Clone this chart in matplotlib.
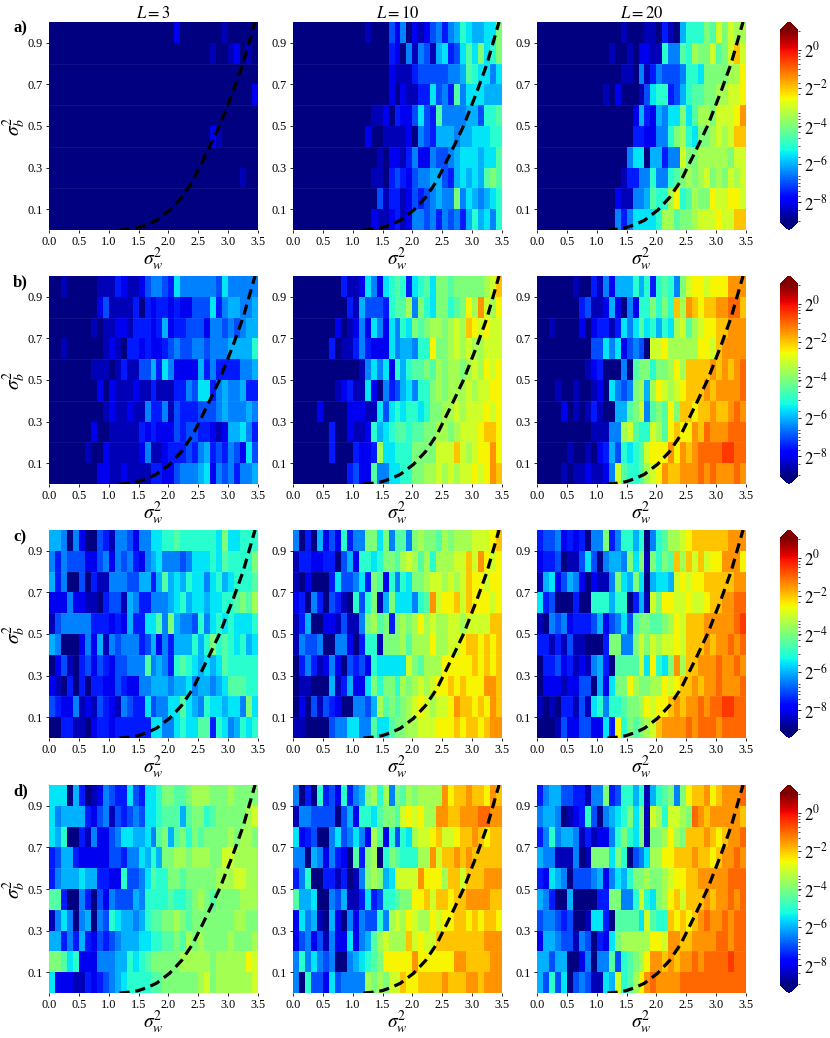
import matplotlib
matplotlib.use('Agg')
import matplotlib.pyplot as plt
import matplotlib.ticker as ticker
from matplotlib.colors import LogNorm
import numpy as np

plt.rcParams['font.family'] = ['Liberation Serif', 'DejaVu Serif']
plt.rcParams['mathtext.fontset'] = 'stix'

# each character is one cell: value = 2 ** (-9 + level / 2)
LEVELS = '0123456789abcdefghi'

a_L3 = ['00000 00000 00000 00000 02000 00001 00000',
        '00000 00000 00000 00000 00000 00100 12010',
        '00000 00000 00000 00000 00000 00000 00000',
        '00000 00000 00000 00000 00000 00000 00002',
        '00000 00000 00000 00000 00000 00000 00000',
        '00000 00000 00000 00000 00000 00210 00000',
        '00000 00000 00000 00000 00000 00000 00000',
        '00000 00000 00000 00000 00000 00000 00100',
        '00000 00000 00000 00000 00000 00000 00000',
        '00000 00000 00000 00000 00000 00000 00000']
a_L10 = ['00000 00000 00100 04250 21245 35687 6677a',
         '00000 00000 00000 03205 15416 73479 7a78a',
         '00000 00000 00000 02111 34444 45569 87757',
         '00000 00000 00000 02021 13374 53957 77666',
         '00000 00000 00011 20322 47439 55556 64889',
         '00000 00000 00200 11112 05436 66566 77788',
         '00000 00000 00001 02213 52254 45677 76779',
         '00000 00000 00011 03432 45566 43676 769a9',
         '00000 00000 00004 13312 43456 55a57 65678',
         '00000 00000 00021 12312 55453 54536 86758']
a_L20 = ['00000 00000 00001 00011 03106 888a9 cacbb',
         '00000 00000 00100 10221 18559 8baac 9acec',
         '00000 00000 00001 10513 54445 887aa aabbd',
         '00000 00000 01020 00147 88346 899aa bbccd',
         '00000 00000 00000 02632 6577a 79bba cccdf',
         '00000 00000 00000 03322 558ab 87aab cbcee',
         '00000 00000 00000 57706 6355c aabbb bbacc',
         '00000 00000 00001 33558 5589a babca bacbc',
         '00000 00000 00021 15569 88bd8 9baad ccddc',
         '00000 00000 00053 57777 8bb9a abccc dccee']
b_L3 = ['00100 00011 13211 24554 37555 55547 55555',
        '00000 00024 11113 03233 23224 44735 66556',
        '00000 00101 12213 33236 23344 42554 54566',
        '00100 00001 21033 23223 45445 54555 66668',
        '00000 00111 01311 44637 52222 63533 33556',
        '00000 00020 21112 11311 13354 77356 55633',
        '00000 00001 21121 15335 14333 44456 55565',
        '00000 00200 11111 32322 24344 33212 66753',
        '00000 01002 11111 25112 33343 56343 54274',
        '00000 00022 11211 11332 24555 67254 53556']
b_L10 = ['00000 00031 12752 78983 7897a a9aaa aabce',
         '00000 00003 16444 3899b 5a87a a89ad bfcbd',
         '00000 00201 25275 27587 a9abb abcbe dcdcc',
         '00000 03011 35322 27566 588da abcbc bbccc',
         '00000 00000 01575 72868 99a9b abbab cbdcd',
         '00000 00123 11720 53467 588ab abbbc bccdd',
         '00002 00002 22117 47878 878aa bbcbc ccdcd',
         '00000 03002 11286 78998 99aab babcc cdeed',
         '00000 03000 3223b 77888 aaaac ccecb cddfd',
         '00000 00003 42295 57788 aabbc bcbcc dcdfe']
b_L20 = ['00000 01003 15266 68683 8985a cddcd ddfff',
         '00000 00341 12620 5288a 8a8eb fedee ffgge',
         '00100 00202 33137 57978 687bc 9bcdd eefff',
         '00000 00004 47572 4540c cdbbb bbddc effff',
         '00000 00012 30005 09aa8 aabdb eeeef efefg',
         '00010 01001 20754 5ab6b dcbcd eeefe ffffg',
         '00002 01013 10066 9ac59 a9dae edeef eefgf',
         '00000 00001 1155b c988c b9ded dfegf ffggg',
         '00000 10010 23648 789cd ddfdf efggg ghhgg',
         '00001 01121 125c9 889bc dfeef ffgfg fffgf']
c_L3 = ['66505 20043 15542 55778 89888 8887a 77888',
        '53544 42245 25453 25675 55457 77879 8888a',
        '63500 40311 55544 66369 67687 75786 78889',
        '22252 21103 44165 33555 67867 76778 89a9b',
        '14555 55333 23263 37795 a6554 85787 87778',
        '65000 25261 54555 34625 36668 68a89 87867',
        '02410 34243 24455 59565 38987 67679 88888',
        '21030 30332 24322 55666 56675 66567 99988',
        '43225 12143 21543 37455 77976 58776 775a7',
        '00331 10233 23333 33775 57877 99387 56878']
c_L10 = ['50306 24283 55aa7 a5995 abaa9 babbb cccde',
         '13322 33046 28878 aa9bc b9b8b bbcce cfdcd',
         '10200 03744 573a9 28587 aabcc bcbce ddcdd',
         '23053 04310 848a1 6a777 589fc ddece dddcd',
         '13600 22141 15ab9 a3aba bdbcb bccbc cccee',
         '15445 00552 03881 aaab9 bbbdb bccde edede',
         '03531 25204 34287 7777c a9bbb ddddd edede',
         '01100 06136 227a8 aa8ba bcbcd deded ddffe',
         '02041 43200 5546b 9a9ab cdcbc cdfee dedfe',
         '11000 04557 75597 79aab bcccd ddede edeff']
c_L20 = ['34452 32305 5a358 86805 89bbc deeee eefff',
         '23340 11474 05665 a7a1a 8a9eb ececd dfffd',
         '16724 65202 115a7 6a706 776cd cddee eeeff',
         '73400 03008 88688 0361c addcc dccde effgg',
         '10545 23334 62457 49aa9 9abdc eeeff fffgh',
         '33131 41100 03aa5 5acac bccdc eeefe ffgfg',
         '03342 31215 63099 99c7d 87afb eefff gffgf',
         '02221 22440 627aa dbaab bdcde efeff gfffg',
         '10103 31417 85889 aabdc ddefe ffgfg ghhgg',
         '00014 22442 273d8 a9abc effff gfggg fgggg']
d_L3 = ['77706 30125 43374 3778a a99ab bbaaa baaaa',
        '75666 63245 14345 47789 9969a a89aa aaabc',
        '76800 31522 45776 6759a 69a8a 9aaaa babba',
        '34663 22222 44355 7686a abbab bbaac cbbbb',
        '35666 76633 22844 57988 aa9aa aaabb bccbb',
        '99300 53042 54446 58888 9889a ba9aa aabbb',
        '15750 56054 87665 6899a aba9a aaaaa abbaa',
        '66353 63243 45666 77889 9a9ba baaaa baaab',
        'aa978 22255 56687 89aaa aabbb bbabb bbbdc',
        '72221 13234 56788 8899a aaaaa bcabb bbbbc']
d_L10 = ['50308 34283 56ab8 b5a9b abbbb fdeef eedfe',
         '15544 44046 28879 aa9cd cdbbf feeff fggff',
         '72340 05745 752b9 28487 bccde ccdee fedee',
         '55065 25320 93ab0 8a988 8bbfc eefef eeeee',
         '35800 33130 15aba 67ccc cfddd beece eefff',
         '96670 05461 13734 889aa ddece edeef fffee',
         '27561 06205 25448 5bcbd cbbdc ddeed edeed',
         '24524 15227 2569b cbbbe cdcce eeeee eefff',
         '58575 45005 6789a ddddd fdddd ddffe eeeff',
         '50844 27455 55bab acced deeee feeef fefff']
d_L20 = ['35664 43315 5a348 86816 89a5a deefd efffg',
         '56650 12384 05678 a7a1c b8ccb agfef ffffe',
         '35856 65131 2258a 87a1a abdba eeefe deffg',
         '65511 1501a aa7a8 0457b bddee efeed effgf',
         '32765 04445 62576 8aaba abcdd eefff ffggg',
         '65300 60000 33aa5 58c87 abdec eeefe ffgfg',
         '45543 40017 73099 997c9 88ede defgf fgfgg',
         '26654 41540 327ab bbbbd dcffe effff ggfgg',
         '66466 00250 55948 9abdf fefef fgfgg gghgg',
         '64847 04541 176c8 9bdfg ffffg ggggg ggggg']

# dashed curve, same in all of them
curve_x = [1.18, 1.35, 1.49, 1.65, 1.80, 2.02, 2.22, 2.41, 2.66, 2.86, 3.08, 3.25, 3.45]
curve_y = [0.0, 0.004, 0.011, 0.027, 0.047, 0.095, 0.156, 0.237, 0.382, 0.503, 0.665, 0.80, 1.0]

panels = [[a_L3, a_L10, a_L20], [b_L3, b_L10, b_L20], [c_L3, c_L10, c_L20], [d_L3, d_L10, d_L20]]
row_names = ['a)', 'b)', 'c)', 'd)']
titles = ['$L=3$', '$L=10$', '$L=20$']
x_ticks = [0.0, 0.5, 1.0, 1.5, 2.0, 2.5, 3.0, 3.5]
y_ticks = [0.1, 0.3, 0.5, 0.7, 0.9]
cbar_exponents = [-8, -6, -4, -2, 0]

W, H = 830, 1038
col_left = [49, 293, 537]
row_top = [22, 276, 530, 785]
row_label_y = [28, 282, 537, 791]
ax_w, ax_h = 209, 208

norm = LogNorm(vmin=2.0 ** -9, vmax=2.0 ** 1)
x_edges = np.arange(36) * 0.1
y_edges = np.arange(11) * 0.1


def read_panel(rows):
    rows = [r.replace(' ', '') for r in rows][::-1]
    levels = np.array([[LEVELS.index(c) for c in r] for r in rows], dtype=float)
    return 2.0 ** (-9 + levels / 2)


def pix_axes(left, top, width, height):
    return fig.add_axes([left / W, 1 - (top + height) / H, width / W, height / H])


fig = plt.figure(figsize=(W / 100, H / 100), dpi=100)

for i in range(4):
    for j in range(3):
        ax = pix_axes(col_left[j], row_top[i], ax_w, ax_h)
        mesh = ax.pcolormesh(x_edges, y_edges, read_panel(panels[i][j]), cmap='jet', norm=norm)
        # faint seams between cells, like the original raster
        for y in [0.2, 0.4, 0.6, 0.8]:
            ax.axhline(y, color='white', alpha=0.07, lw=0.6)
        ax.plot(curve_x, curve_y, color='black', lw=2.3, dashes=(3.2, 1.8))
        ax.set_xlim(0, 3.5)
        ax.set_ylim(0, 1)
        ax.set_xticks(x_ticks)
        ax.set_yticks(y_ticks)
        ax.xaxis.set_major_formatter(ticker.FormatStrFormatter('%.1f'))
        ax.yaxis.set_major_formatter(ticker.FormatStrFormatter('%.1f'))
        ax.tick_params(labelsize=8.8, length=2.5, width=0.6, pad=2)
        for spine in ax.spines.values():
            spine.set_visible(False)
        ax.set_xlabel(r'$\sigma_w^2$', fontsize=14, va='center')
        ax.xaxis.set_label_coords(0.5, -0.14)
        if j == 0:
            ax.set_ylabel(r'$\sigma_b^2$', fontsize=14, va='center')
            ax.yaxis.set_label_coords(-0.167, 0.5)
        if i == 0:
            ax.set_title(titles[j], fontsize=12, pad=2.5)

    cax = pix_axes(780, row_top[i], 18, ax_h)
    cb = fig.colorbar(mesh, cax=cax, extend='both', extendfrac=0.045)
    cb.outline.set_visible(False)
    cb.set_ticks([2.0 ** e for e in cbar_exponents])
    cb.set_ticklabels([r'$2^{%d}$' % e for e in cbar_exponents])
    cb.ax.yaxis.set_minor_locator(ticker.LogLocator(base=10, subs=range(1, 10), numticks=12))
    cb.ax.yaxis.set_minor_formatter(ticker.NullFormatter())
    cb.ax.tick_params(which='major', labelsize=12, length=2.5, width=0.6, pad=1.5)
    cb.ax.tick_params(which='minor', length=1.5, width=0.5)

    fig.text(13 / W, 1 - row_label_y[i] / H, row_names[i], fontsize=12, fontweight='bold', va='center')

plt.savefig('out.png', dpi=100)
